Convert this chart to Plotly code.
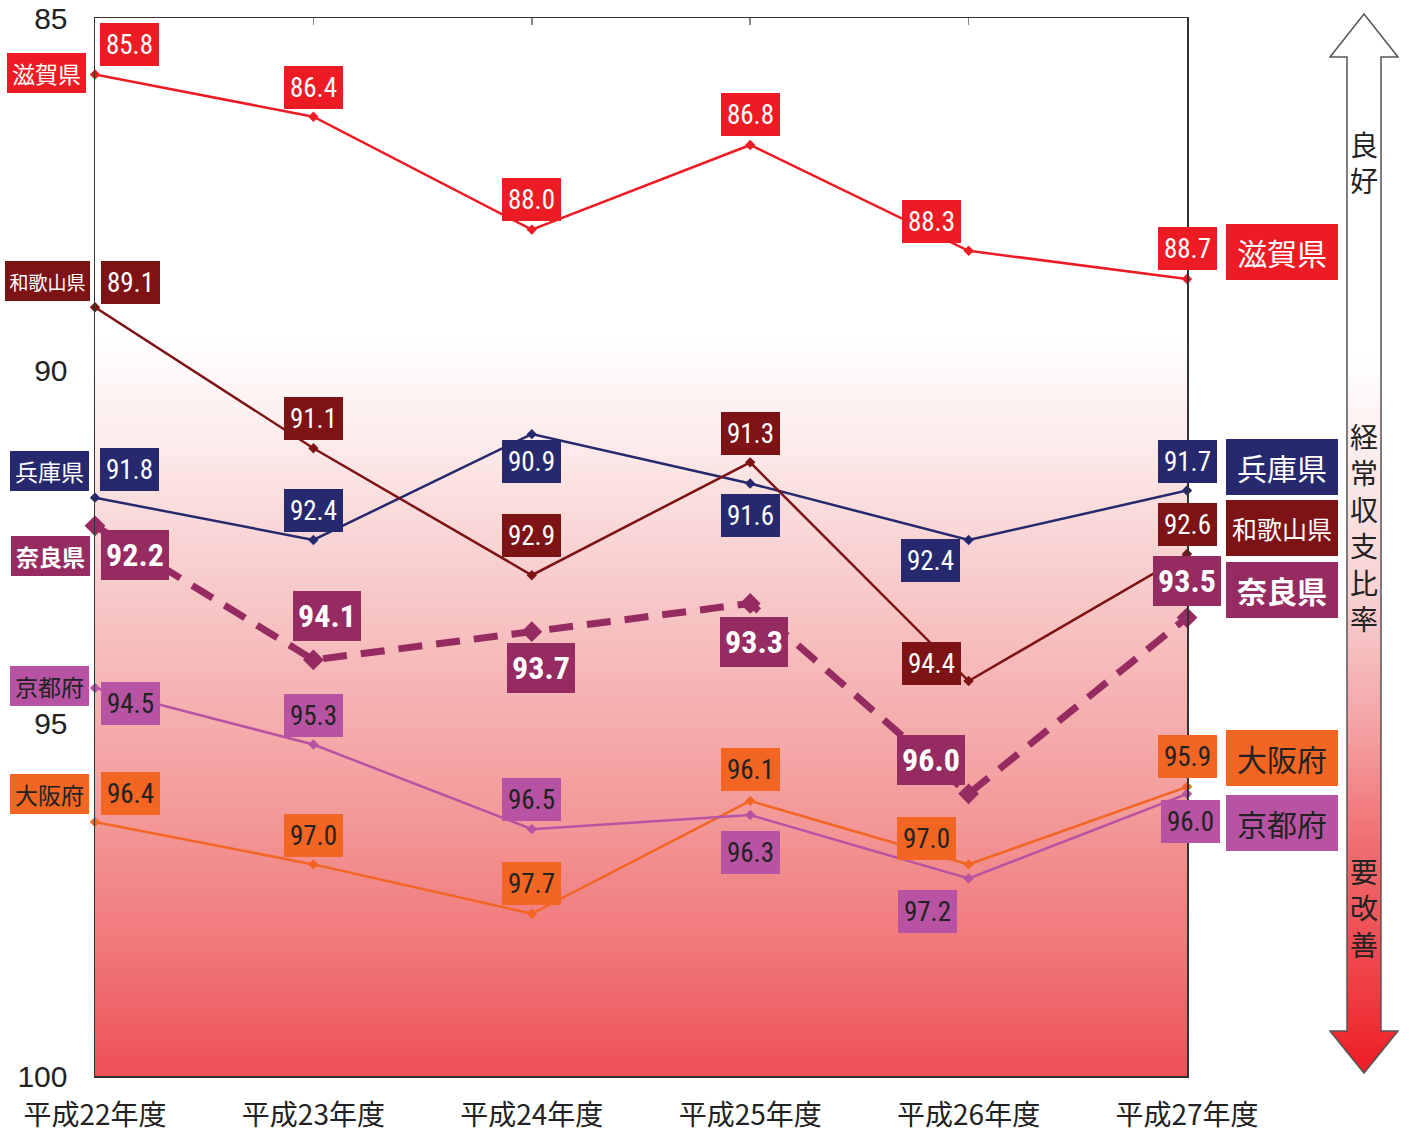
import base64
import plotly.graph_objects as go

# ---------------- data ----------------
years = ["平成22年度", "平成23年度", "平成24年度", "平成25年度", "平成26年度", "平成27年度"]
prefs = ["大阪府", "京都府", "奈良県", "兵庫県", "和歌山県", "滋賀県"]
shiga = [85.8, 86.4, 88.0, 86.8, 88.3, 88.7]
wakayama = [89.1, 91.1, 92.9, 91.3, 94.4, 92.6]
hyogo = [91.8, 92.4, 90.9, 91.6, 92.4, 91.7]
nara = [92.2, 94.1, 93.7, 93.3, 96.0, 93.5]
kyoto = [94.5, 95.3, 96.5, 96.3, 97.2, 96.0]
osaka = [96.4, 97.0, 97.7, 96.1, 97.0, 95.9]
y_ticks = [85, 90, 95, 100]
arrow_top = "良好"
arrow_mid = "経常収支比率"
arrow_bot = "要改善"

values = {"大阪府": osaka, "京都府": kyoto, "奈良県": nara,
          "兵庫県": hyogo, "和歌山県": wakayama, "滋賀県": shiga}

# ---------------- styles ----------------
colors = {"滋賀県": "#ED1C24", "和歌山県": "#7D1315", "兵庫県": "#26296E",
          "奈良県": "#962B61", "京都府": "#B853A3", "大阪府": "#F26522"}
text_col = {"滋賀県": "white", "和歌山県": "white", "兵庫県": "white",
            "奈良県": "white", "京都府": "#222222", "大阪府": "#222222"}
# value label offsets (px) relative to each point: (dx, dy_down)
val_off = {
    "滋賀県": [(34, -30), (0, -29), (0, -30), (0, -30), (-37, -29), (0, -30)],
    "和歌山県": [(35, -25), (0, -30), (0, -40), (0, -29), (-37, -18), (0, -30)],
    "兵庫県": [(34, -28), (0, -29), (0, 27), (0, 32), (-38, 21), (0, -29)],
    "奈良県": [(40, 29), (14, -44), (9, 36), (4, 39), (-38, -34), (0, -37)],
    "京都府": [(35, 15), (0, -29), (0, -30), (0, 37), (-41, 33), (3, 28)],
    "大阪府": [(35, -29), (0, -29), (0, -30), (0, -31), (-42, -26), (0, -30)],
}
left_off = {"滋賀県": (-49, -1), "和歌山県": (-48, -26), "兵庫県": (-46, -27),
            "奈良県": (-45, 30), "京都府": (-46, -2), "大阪府": (-46, -28)}
right_off = {"滋賀県": -27, "兵庫県": -24, "和歌山県": -26, "奈良県": -28,
             "大阪府": -29, "京都府": 29}

NUM_FONT = "Roboto Condensed, Arial Narrow, Roboto, sans-serif"
CJK_FONT = "Noto Sans CJK JP, sans-serif"

x_idx = list(range(len(years)))

fig = go.Figure()

for p in prefs:
    is_nara = p == "奈良県"
    fig.add_trace(go.Scatter(
        x=x_idx, y=values[p], mode="lines+markers", name=p,
        line=dict(color=colors[p], width=7 if is_nara else 2.5,
                  dash="24px,14px" if is_nara else "solid"),
        marker=dict(symbol="diamond", size=16 if is_nara else 8, color=colors[p]),
        cliponaxis=False, showlegend=False, hoverinfo="skip",
    ))

# empty helper trace so that the top (mirrored tick) axis is drawn
fig.add_trace(go.Scatter(x=x_idx, y=[None] * len(x_idx), xaxis="x2", mode="lines",
                         showlegend=False, hoverinfo="skip"))

annotations = []
for p in prefs:
    is_nara = p == "奈良県"
    vals = values[p]
    for i, v in enumerate(vals):
        dx, dy = val_off[p][i]
        annotations.append(dict(
            x=i, y=v, xref="x", yref="y", text=f"{v:.1f}", showarrow=False,
            xanchor="center", yanchor="middle", xshift=dx, yshift=-dy,
            bgcolor=colors[p], borderwidth=0, borderpad=0,
            width=68 if is_nara else 59, height=50 if is_nara else 43,
            font=dict(family=NUM_FONT, size=32 if is_nara else 27,
                      color=text_col[p], weight="bold" if is_nara else "normal"),
        ))
    # left name label
    dx, dy = left_off[p]
    annotations.append(dict(
        x=0, y=vals[0], xref="x", yref="y", text=p, showarrow=False,
        xanchor="center", yanchor="middle", xshift=dx, yshift=-dy,
        bgcolor=colors[p], borderwidth=0, borderpad=0,
        width=85 if len(p) == 4 else 79, height=40,
        font=dict(family=CJK_FONT, size=19 if len(p) == 4 else 23,
                  color=text_col[p], weight="bold" if is_nara else "normal"),
    ))
    # right name label
    annotations.append(dict(
        x=len(years) - 1, y=vals[-1], xref="x", yref="y", text=p, showarrow=False,
        xanchor="center", yanchor="middle", xshift=95, yshift=-right_off[p],
        bgcolor=colors[p], borderwidth=0, borderpad=0, width=112, height=56,
        font=dict(family=CJK_FONT, size=25 if len(p) == 4 else 30,
                  color=text_col[p], weight="bold" if is_nara else "normal"),
    ))

PLOT_L, PLOT_R, PLOT_T, PLOT_B = 95, 1187, 18, 1076
pw, ph = PLOT_R - PLOT_L, PLOT_B - PLOT_T


def px2paper_x(px):
    return (px - PLOT_L) / pw


def px2paper_y(py):
    return (PLOT_B - py) / ph


# arrow texts (vertical, one character per line)
for chars, center in ((arrow_top, 162), (arrow_mid, 527), (arrow_bot, 907)):
    annotations.append(dict(
        x=px2paper_x(1364), y=px2paper_y(center), xref="paper", yref="paper",
        text="<br>".join(chars), showarrow=False, xanchor="center", yanchor="middle",
        align="center", font=dict(family=CJK_FONT, size=28, color="#222222"),
    ))

# background gradient image
bg_svg = (
    '<svg xmlns="http://www.w3.org/2000/svg" width="100" height="1000" viewBox="0 0 100 1000" '
    'preserveAspectRatio="none"><defs><linearGradient id="g" x1="0" y1="0" x2="0" y2="1">'
    '<stop offset="0" stop-color="#FFFFFF"/><stop offset="0.30" stop-color="#FFFFFF"/>'
    '<stop offset="0.40" stop-color="#FCEBEB"/><stop offset="0.50" stop-color="#F9D3D3"/>'
    '<stop offset="0.62" stop-color="#F6B7B7"/><stop offset="0.75" stop-color="#F39A9A"/>'
    '<stop offset="0.88" stop-color="#F07779"/><stop offset="1" stop-color="#EE5056"/>'
    '</linearGradient></defs><rect x="0" y="0" width="100" height="1000" fill="url(#g)"/></svg>'
)
arrow_svg = (
    '<svg xmlns="http://www.w3.org/2000/svg" width="70" height="1062" viewBox="0 0 70 1062" '
    'preserveAspectRatio="none"><defs><linearGradient id="a" x1="0" y1="0" x2="0" y2="1">'
    '<stop offset="0" stop-color="#FFFFFF"/><stop offset="0.32" stop-color="#FFFFFF"/>'
    '<stop offset="0.41" stop-color="#FCEEEE"/><stop offset="0.55" stop-color="#F8D0D1"/>'
    '<stop offset="0.66" stop-color="#F4A8AA"/><stop offset="0.78" stop-color="#F07072"/>'
    '<stop offset="0.92" stop-color="#EE3E43"/><stop offset="1" stop-color="#ED1C24"/>'
    '</linearGradient></defs>'
    '<polygon points="35,1 69,44 52,44 52,1018 69,1018 35,1060 1,1018 18,1018 18,44 1,44" '
    'fill="url(#a)" stroke="#555555" stroke-width="1.5" stroke-linejoin="miter"/></svg>'
)


def uri(s):
    return "data:image/svg+xml;base64," + base64.b64encode(s.encode("utf-8")).decode("ascii")


images = [
    dict(source=uri(bg_svg), xref="paper", yref="paper", x=0, y=1, sizex=1, sizey=1,
         xanchor="left", yanchor="top", sizing="stretch", layer="below"),
    dict(source=uri(arrow_svg), xref="paper", yref="paper",
         x=px2paper_x(1329), y=px2paper_y(13), sizex=70 / pw, sizey=1062 / ph,
         xanchor="left", yanchor="top", sizing="stretch", layer="above"),
]

fig.update_layout(
    width=1409, height=1135, autosize=False,
    margin=dict(l=PLOT_L, r=1409 - PLOT_R, t=PLOT_T, b=1135 - PLOT_B, pad=0, autoexpand=False),
    paper_bgcolor="white", plot_bgcolor="rgba(0,0,0,0)",
    annotations=annotations, images=images,
    xaxis=dict(range=[0, len(years) - 1], tickmode="array", tickvals=x_idx, ticktext=years,
               automargin=False,
               showgrid=False, zeroline=False, showline=True, linecolor="#333333",
               linewidth=1.5, mirror=True, ticks="",
               tickfont=dict(family=CJK_FONT, size=28, color="#222222"),
               ticklabelstandoff=14),
    xaxis2=dict(overlaying="x", anchor="y", side="top",
                range=[0, len(years) - 1], tickmode="array", tickvals=x_idx,
                showticklabels=False, ticks="inside", ticklen=7, tickcolor="#888888",
                tickwidth=1.5, showgrid=False, zeroline=False, showline=False,
                automargin=False),
    yaxis=dict(range=[100, 85], tickmode="array", tickvals=y_ticks,
               ticktext=[str(t) for t in y_ticks], automargin=False,
               showgrid=False, zeroline=False, showline=True, linecolor="#333333",
               linewidth=1.5, mirror=True, ticks="",
               tickfont=dict(family="Liberation Sans, Arial, sans-serif", size=30, color="#222222"),
               ticklabelstandoff=20),
)

fig.write_html(
    "out.html",
    config={"displayModeBar": False, "staticPlot": True},
    post_script="document.body.style.margin='0';document.documentElement.style.overflow='hidden';",
)
